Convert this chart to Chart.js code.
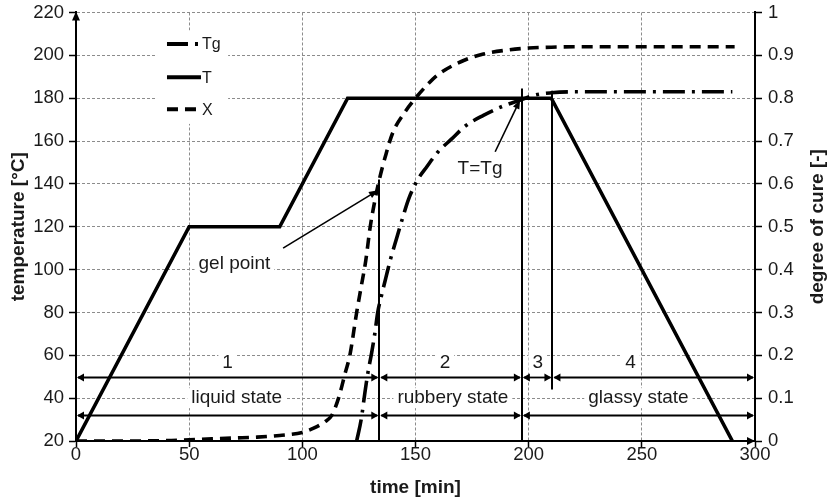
<!DOCTYPE html>
<html>
<head>
<meta charset="utf-8">
<script src="https://cdn.jsdelivr.net/npm/chart.js@4.4.1/dist/chart.umd.min.js"></script>
<style>
  html, body { margin: 0; padding: 0; background: #fff; }
</style>
</head>
<body>
<canvas id="cure_chart" width="837" height="504"></canvas>
<script>
// temperature profile T [°C]
const timeT = [0, 50, 90, 120, 210, 290];
const tempT = [20, 120, 120, 180, 180, 20];

// degree of cure X [-] (right axis)
const timeX = [0, 20, 40, 50, 60, 70, 80, 90, 100, 105, 110, 113, 116, 119, 121, 124, 126, 128, 130, 132, 134, 137, 140, 145, 150, 155, 160, 170, 180, 190, 200, 210, 220, 291];
const cureX = [0, 0, 0.001, 0.003, 0.005, 0.007, 0.009, 0.013, 0.02, 0.03, 0.045, 0.06, 0.1, 0.16, 0.2, 0.3, 0.36, 0.42, 0.5, 0.56, 0.61, 0.67, 0.72, 0.765, 0.8, 0.83, 0.855, 0.885, 0.903, 0.912, 0.917, 0.919, 0.92, 0.92];

// glass transition temperature Tg [°C]
const timeTg = [124, 126, 127.7, 129, 130.6, 132, 133.3, 135, 137, 139, 141.4, 144, 147, 151, 155, 160, 166, 172, 180, 188, 196, 203, 210, 220, 290];
const tempTg = [20, 30, 43, 52, 61, 70, 80, 88, 96.6, 105, 113.7, 123, 133, 142, 148, 155, 161, 167, 172, 176, 179, 181.5, 182.5, 183, 183];

// state boundaries [min]
const phaseBounds = [0, 134, 197, 210.5, 300];
const phaseLabels = ['1', '2', '3', '4'];
const stateBounds = [0, 134, 197, 300];
const stateLabels = ['liquid state', 'rubbery state', 'glassy state'];

const toPoints = (xs, ys) => xs.map((v, i) => ({x: v, y: ys[i]}));

const FONT = "'Liberation Sans', Arial, sans-serif";
const INK = '#1a1a1a';

// text notes (data coords) -- drawn on white boxes
const notes = [
    {text: phaseLabels[0], t: 67, v: 56.5},
    {text: phaseLabels[1], t: 163, v: 56.5},
    {text: phaseLabels[2], t: 204, v: 56.5},
    {text: phaseLabels[3], t: 245, v: 56.5},
    {text: stateLabels[0], t: 71, v: 40},
    {text: stateLabels[1], t: 166.5, v: 40},
    {text: stateLabels[2], t: 248.5, v: 40},
    {text: 'gel point', t: 70, v: 102.5},
    {text: 'T=Tg', t: 178.5, v: 147, noBox: true},
];

function arrowHead(ctx, x, y, angle, len, half) {
    ctx.save();
    ctx.translate(x, y);
    ctx.rotate(angle);
    ctx.beginPath();
    ctx.moveTo(0, 0);
    ctx.lineTo(-len, -half);
    ctx.lineTo(-len, half);
    ctx.closePath();
    ctx.fill();
    ctx.restore();
}

function doubleArrow(ctx, xa, xb, y) {
    ctx.beginPath();
    ctx.moveTo(xa + 2, y);
    ctx.lineTo(xb - 2, y);
    ctx.stroke();
    arrowHead(ctx, xb - 1, y, 0, 7, 4);
    arrowHead(ctx, xa + 1, y, Math.PI, 7, 4);
}

function pointer(ctx, x1, y1, x2, y2) {
    ctx.beginPath();
    ctx.moveTo(x1, y1);
    ctx.lineTo(x2, y2);
    ctx.stroke();
    arrowHead(ctx, x2, y2, Math.atan2(y2 - y1, x2 - x1), 9, 3.5);
}

const annotations = {
    id: 'annotations',
    beforeDatasetsDraw(chart) {
        const {ctx, scales: {x, y}} = chart;
        ctx.save();
        ctx.fillStyle = '#fff';
        // legend background
        const lx1 = x.getPixelForValue(35.8), lx2 = x.getPixelForValue(67.2);
        const ly1 = y.getPixelForValue(211.6), ly2 = y.getPixelForValue(168);
        ctx.fillRect(lx1, ly1, lx2 - lx1, ly2 - ly1);
        // boxes behind notes
        ctx.font = '19px ' + FONT;
        notes.forEach(n => {
            if (n.noBox) return;
            const w = ctx.measureText(n.text).width;
            const px = x.getPixelForValue(n.t), py = y.getPixelForValue(n.v);
            ctx.fillRect(px - w / 2 - 4, py - 10, w + 8, 20);
        });
        ctx.restore();
    },
    afterDatasetsDraw(chart) {
        const {ctx, chartArea: ca, scales: {x, y}} = chart;
        ctx.save();
        ctx.strokeStyle = '#000';
        ctx.fillStyle = '#000';

        // vertical boundary lines
        ctx.lineWidth = 2;
        const vLines = [[134, 20, 142], [197, 20, 184.5], [210.5, 44, 183.5]];
        vLines.forEach(([t, a, b]) => {
            const px = Math.round(x.getPixelForValue(t));
            ctx.beginPath();
            ctx.moveTo(px, y.getPixelForValue(a));
            ctx.lineTo(px, y.getPixelForValue(b));
            ctx.stroke();
        });

        // double arrows
        ctx.lineWidth = 1.8;
        const rowPhase = Math.round(y.getPixelForValue(50)) + 0.5;
        for (let i = 0; i < phaseBounds.length - 1; i++) {
            doubleArrow(ctx, x.getPixelForValue(phaseBounds[i]), x.getPixelForValue(phaseBounds[i + 1]), rowPhase);
        }
        const rowState = Math.round(y.getPixelForValue(32)) + 0.5;
        for (let i = 0; i < stateBounds.length - 1; i++) {
            doubleArrow(ctx, x.getPixelForValue(stateBounds[i]), x.getPixelForValue(stateBounds[i + 1]), rowState);
        }

        // pointers
        ctx.lineWidth = 1.6;
        pointer(ctx, x.getPixelForValue(91.5), y.getPixelForValue(110), x.getPixelForValue(133.4), y.getPixelForValue(137));
        pointer(ctx, x.getPixelForValue(185.2), y.getPixelForValue(155), x.getPixelForValue(196.2), y.getPixelForValue(179.2));

        // texts
        ctx.fillStyle = INK;
        ctx.font = '19px ' + FONT;
        ctx.textAlign = 'center';
        ctx.textBaseline = 'middle';
        notes.forEach(n => ctx.fillText(n.text, x.getPixelForValue(n.t), y.getPixelForValue(n.v)));

        // legend
        const ds = chart.data.datasets;
        const legendRows = [[ds[2], 205.3], [ds[0], 189.8], [ds[1], 174.8]];
        const sx1 = x.getPixelForValue(40.2);
        ctx.font = '16px ' + FONT;
        ctx.textAlign = 'left';
        legendRows.forEach(([d, v]) => {
            const py = y.getPixelForValue(v);
            ctx.save();
            ctx.lineWidth = 4;
            ctx.strokeStyle = '#000';
            ctx.setLineDash(d.legendDash || []);
            ctx.beginPath();
            ctx.moveTo(sx1, py);
            ctx.lineTo(sx1 + 34, py);
            ctx.stroke();
            ctx.restore();
            ctx.fillText(d.label, sx1 + 35, py + 1);
        });

        // axis arrows
        ctx.fillStyle = '#000';
        arrowHead(ctx, ca.left, ca.top - 1, -Math.PI / 2, 9, 4);
        arrowHead(ctx, ca.right, ca.bottom, 0, 8, 4);

        // right axis title, reads bottom to top
        ctx.fillStyle = INK;
        ctx.font = 'bold 19px ' + FONT;
        ctx.textAlign = 'center';
        ctx.translate(818, (ca.top + ca.bottom) / 2);
        ctx.rotate(-Math.PI / 2);
        ctx.fillText('degree of cure [-]', 0, 0);
        ctx.restore();
    }
};

const tickFont = {family: FONT, size: 18.5, lineHeight: 0.7};
const xTickFont = {family: FONT, size: 18.5, lineHeight: 0.9};
const titleFont = {family: FONT, size: 19, weight: 'bold'};
const gridGrey = '#8c8c8c';

const ctx = document.getElementById('cure_chart').getContext('2d');
const cure_chart = new Chart(ctx, {
    type: 'line',
    data: {
        datasets: [{
            label: 'T',
            data: toPoints(timeT, tempT),
            yAxisID: 'y',
            borderColor: '#000',
            borderWidth: 3.6,
            borderJoinStyle: 'miter',
            pointRadius: 0,
            tension: 0,
        }, {
            label: 'X',
            data: toPoints(timeX, cureX),
            yAxisID: 'y1',
            borderColor: '#000',
            borderWidth: 3.6,
            borderDash: [11, 7],
            legendDash: [11, 7],
            pointRadius: 0,
            cubicInterpolationMode: 'monotone',
        }, {
            label: 'Tg',
            data: toPoints(timeTg, tempTg),
            yAxisID: 'y',
            borderColor: '#000',
            borderWidth: 3.6,
            borderDash: [22, 7, 3, 7],
            legendDash: [21, 7, 3, 10],
            pointRadius: 0,
            cubicInterpolationMode: 'monotone',
        }]
    },
    options: {
        responsive: false,
        animation: false,
        layout: {padding: {top: 12, left: 0, right: 0, bottom: 0}},
        plugins: {
            legend: {display: false},
            tooltip: {enabled: false},
        },
        scales: {
            x: {
                type: 'linear',
                min: 0,
                max: 300,
                ticks: {stepSize: 50, font: xTickFont, color: INK, padding: 0, maxRotation: 0},
                grid: {color: gridGrey, lineWidth: 1, tickColor: '#000', tickLength: 6, tickWidth: 1.5},
                border: {color: '#000', width: 2, dash: [3, 2]},
                title: {display: true, text: 'time [min]', font: titleFont, color: INK, padding: {top: 0, bottom: 5}},
                afterFit: (s) => { s.height = 63; },
            },
            y: {
                type: 'linear',
                position: 'left',
                min: 20,
                max: 220,
                ticks: {stepSize: 20, font: tickFont, color: INK, padding: 5},
                grid: {color: gridGrey, lineWidth: 1, tickColor: '#000', tickLength: 7, tickWidth: 1.5},
                border: {color: '#000', width: 2, dash: [3, 2]},
                title: {display: true, text: 'temperature [°C]', font: titleFont, color: INK, padding: {top: 7, bottom: 0}},
                afterFit: (s) => { s.width = 76; },
            },
            y1: {
                type: 'linear',
                position: 'right',
                min: 0,
                max: 1,
                ticks: {
                    stepSize: 0.1, font: tickFont, color: INK, padding: 6,
                    callback: (v) => String(Math.round(v * 10) / 10),
                },
                grid: {drawOnChartArea: false, tickColor: '#000', tickLength: 7, tickWidth: 1.5},
                border: {color: '#000', width: 2},
                afterFit: (s) => { s.width = 82; },
            }
        }
    },
    plugins: [annotations]
});
</script>
</body>
</html>
